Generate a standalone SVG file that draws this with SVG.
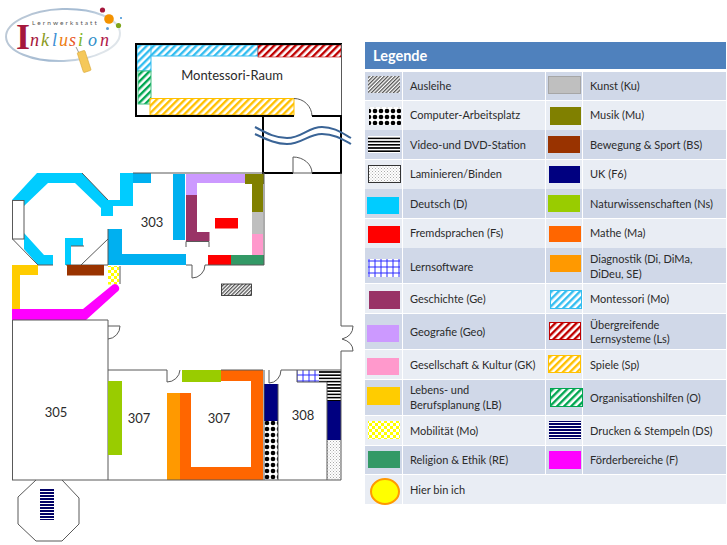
<svg xmlns="http://www.w3.org/2000/svg" width="727" height="545" viewBox="0 0 727 545">
<style>
text{font-family:"Lato","Liberation Sans",sans-serif;fill:#2b2b2b}
.l{font-size:11px}
.r{font-size:13px}
.d{fill:#d0d8e8}.e{fill:#e9edf4}
.w{fill:none;stroke:#595959;stroke-width:1}
.t{fill:none;stroke:#000;stroke-width:2}
.wave{fill:none;stroke:#3a6496;stroke-width:2}
</style>
<defs>
<pattern id="pAus" width="2.6" height="2.6" patternUnits="userSpaceOnUse" patternTransform="rotate(45)"><rect width="2.6" height="2.6" fill="#fff"/><rect width="1.3" height="2.6" fill="#555"/></pattern>
<pattern id="pCom" width="6" height="6" patternUnits="userSpaceOnUse"><rect width="6" height="6" fill="#fff"/><circle cx="3" cy="3" r="2.300" fill="#000"/></pattern>
<pattern id="pDvd" width="3" height="3.2" patternUnits="userSpaceOnUse"><rect width="3" height="3.2" fill="#fff"/><rect width="3" height="1.6" fill="#000"/></pattern>
<pattern id="pLam" width="3" height="3" patternUnits="userSpaceOnUse"><rect width="3" height="3" fill="#fff"/><rect width="1" height="1" fill="#aaa"/><rect x="1.5" y="1.5" width="1" height="1" fill="#bbb"/></pattern>
<pattern id="pSw" width="6" height="6" patternUnits="userSpaceOnUse"><rect width="6" height="6" fill="#fff"/><path d="M0 3H6M3 0V6" stroke="#2a2aff" stroke-width="1" fill="none"/></pattern>
<pattern id="pMo" width="5" height="5" patternUnits="userSpaceOnUse" patternTransform="rotate(45)"><rect width="5" height="5" fill="#fff"/><rect width="2.4" height="5" fill="#33bdf0"/></pattern>
<pattern id="pLs" width="5" height="5" patternUnits="userSpaceOnUse" patternTransform="rotate(45)"><rect width="5" height="5" fill="#fff"/><rect width="2.4" height="5" fill="#c00000"/></pattern>
<pattern id="pSp" width="5" height="5" patternUnits="userSpaceOnUse" patternTransform="rotate(45)"><rect width="5" height="5" fill="#fff"/><rect width="2.4" height="5" fill="#ffc000"/></pattern>
<pattern id="pO" width="5" height="5" patternUnits="userSpaceOnUse" patternTransform="rotate(45)"><rect width="5" height="5" fill="#fff"/><rect width="2.4" height="5" fill="#00a650"/></pattern>
<pattern id="pMob" width="6" height="6" patternUnits="userSpaceOnUse"><rect width="6" height="6" fill="#fff"/><rect width="3" height="3" fill="#ffff00"/><rect x="3" y="3" width="3" height="3" fill="#ffff00"/></pattern>
<pattern id="pDs" width="3" height="3" patternUnits="userSpaceOnUse"><rect width="3" height="3" fill="#fff"/><rect width="3" height="2" fill="#000066"/></pattern>
<linearGradient id="gE" x1="0" y1="0" x2="1" y2="0.3"><stop offset="0" stop-color="#c3cdd8"/><stop offset="0.6" stop-color="#a3bad2"/><stop offset="1" stop-color="#dfe5ea"/></linearGradient>
</defs>

<g id="logo">
<ellipse cx="63" cy="35" rx="57" ry="26" fill="#fff" stroke="url(#gE)" stroke-width="2" transform="rotate(-2 63 35)"/>
<text x="32" y="25" style="font-size:6.500px;letter-spacing:2.1px;fill:#555">Lernwerkstatt</text>
<text x="16" y="49" style="font-family:'Liberation Serif',serif;font-size:36px;font-weight:bold;fill:#a5173c">I</text>
<text y="46" style="font-family:'Liberation Serif',serif;font-style:italic;font-size:18px"><tspan x="30" style="fill:#a5173c">n</tspan><tspan x="41" style="fill:#8b9a1e">k</tspan><tspan x="52" style="fill:#3b8fd4">l</tspan><tspan x="59" style="fill:#ee7d11">u</tspan><tspan x="69" style="fill:#e8551e">s</tspan><tspan x="78" style="fill:#7fb51d">i</tspan><tspan x="88" style="fill:#2f8ec9">o</tspan><tspan x="100" style="fill:#b01a4a">n</tspan></text>
<circle cx="102.500" cy="10" r="2.600" fill="#a5173c"/><circle cx="109" cy="19" r="4.800" fill="#f39200"/><circle cx="121" cy="18" r="1" fill="#3b8fd4"/><circle cx="118.500" cy="25.500" r="2.600" fill="#7fa51d"/><circle cx="107.500" cy="28.500" r="1.500" fill="#5b9bd5"/>
<path d="M76 47 L79 53" stroke="#999" fill="none"/>
<rect x="80" y="51" width="8" height="21" rx="1" fill="#f5c85a" stroke="#d9a93a" stroke-width="0.6" transform="rotate(-18 84 61)"/>
</g>

<g id="montessori-raum">
<rect x="137" y="45" width="121" height="11" fill="url(#pMo)" stroke="#33bdf0"/>
<rect x="258" y="45" width="83" height="12" fill="url(#pLs)" stroke="#c00000" stroke-width="0.6"/>
<rect x="137" y="45" width="14" height="26" fill="url(#pMo)" stroke="#33bdf0"/>
<rect x="138" y="71" width="13" height="33" fill="url(#pO)" stroke="#3fbf7f"/>
<rect x="150" y="98.500" width="144" height="16.500" fill="url(#pSp)" stroke="#ffc000"/>
<path class="t" d="M294 116H136V44H342"/>
<path class="w" d="M341.500 44V116"/>
<path class="w" d="M294 98.500A18 18 0 0 1 312 116"/>
<text class="r" x="232" y="80" text-anchor="middle">Montessori-Raum</text>
</g>

<g id="flur">
<path class="t" d="M312 116H341V173H312M293 173H263V116H294"/>
<path class="w" d="M293 157V173H312M293 157A19 16 0 0 1 312 173"/>
<path class="wave" d="M255 127C268 134 276 138 287 138C302 138 308 127 322 127C334 127 342 133 351 138"/>
<path class="wave" d="M255 134C268 140 276 144 287 144C302 144 308 134 322 134C334 134 342 139 351 144"/>
</g>

<g id="raum-303">
<path fill="#00ccff" d="M12 200L37 173H82L108 200H120V173H133V206H113V216H101V208L75 183H48L24 206V200Z"/>
<path fill="#00b0f0" d="M133 173H151V183H133Z"/>
<path fill="#00ccff" d="M24 233L44 255H53V265H38L24 249Z"/>
<path fill="#00ccff" d="M65 238H83V246H71V265H65Z"/>
<path fill="#00b0f0" d="M108 229H122V254H186V265H108Z"/>
<rect x="173" y="174" width="12" height="66" fill="#00b0f0"/>
<rect x="186" y="174" width="59" height="9" fill="#cc99ff"/>
<rect x="186" y="174" width="11" height="21" fill="#cc99ff"/>
<path fill="#993366" d="M186 195H197V232H209.500V241H186Z"/>
<path fill="#808000" d="M245 174H264V184H263V212H252V184H245Z"/>
<rect x="252" y="212" width="11" height="22" fill="#bfbfbf"/>
<rect x="252" y="234" width="11" height="21" fill="#ff99cc"/>
<rect x="231" y="255" width="33" height="10" fill="#339966"/>
<rect x="208" y="255" width="23" height="10" fill="#ff0000"/>
<rect x="215" y="218" width="23" height="10.500" fill="#ff0000"/>
<rect x="12.500" y="200.500" width="11.500" height="38.500" fill="#fff" stroke="#595959"/>
<path class="w" d="M12.500 239L38 265H53M82 173L108 200M133 173H264V265H205M186 265H192V278A13 13 0 0 0 205 265M66 265H108V229M81 265L108 239M71 246H84M186 247V241.500H209V247"/>
<rect x="221.500" y="284" width="30" height="11.500" fill="url(#pAus)" stroke="#222" stroke-width="0.8"/>
<text class="r" x="152" y="227" text-anchor="middle">303</text>
</g>

<g id="westbereich">
<rect x="67" y="265" width="37" height="10.500" fill="#993300"/>
<rect x="108" y="266" width="11" height="18.500" fill="url(#pMob)"/>
<path class="w" d="M120 266V284"/>
<path fill="#ffcc00" d="M12 265H38V275H20V309H12Z"/>
<path fill="#ff00ff" d="M12 309H83L113 284.500Q117 283 119 287Q120 290 117 292L86 320H12Z"/>
</g>

<g id="raum-305">
<path class="w" d="M12.500 480V320H108V480M108 326H120A13 13 0 0 1 108 339"/>
<text class="r" x="56" y="417" text-anchor="middle">305</text>
<path class="w" d="M36 480L18 497V524L36 541H62L79 524V498L62 480"/>
<rect x="40" y="489" width="14" height="31" fill="url(#pDs)"/>
</g>

<g id="raum-307">
<rect x="108" y="381" width="14" height="74" fill="#99cc00"/>
<rect x="167" y="393" width="13" height="87" fill="#ff9900"/>
<path fill="#ff6600" d="M180 393H191V467H251V381H221V370H263V480H180Z"/>
<rect x="182" y="370" width="39" height="12" fill="#99cc00"/>
<path class="w" d="M108 370H167V382A13 13 0 0 0 180 370M221 370H263"/>
<text class="r" x="139" y="423" text-anchor="middle">307</text>
<text class="r" x="219" y="423" text-anchor="middle">307</text>
</g>

<g id="raum-308">
<rect x="264" y="384" width="14" height="37" fill="#000080"/>
<rect x="264" y="421" width="14" height="59" fill="url(#pCom)"/>
<rect x="297" y="370" width="22" height="12" fill="url(#pSw)"/>
<rect x="319" y="370" width="22" height="12" fill="url(#pDvd)"/>
<rect x="327" y="382" width="14" height="19" fill="url(#pDvd)"/>
<rect x="327" y="401" width="14" height="39" fill="#000080"/>
<rect x="327" y="440" width="14" height="40" fill="url(#pLam)"/>
<path class="w" d="M269 370V383A12 13 0 0 0 281 370H341M297 370V382H327V480M278 384V480M264 370V480M341 480H12"/>
<text class="r" x="303" y="420" text-anchor="middle">308</text>
</g>

<g id="aussenwand">
<path class="w" d="M341 173V326H353Q353 336 342 339Q353 342 353 351H341V480"/>
</g>

<g id="legende">
<rect x="365" y="42" width="361" height="27" fill="#4f81bd"/>
<text x="373" y="61" style="font-size:14.500px;font-weight:bold;fill:#fff">Legende</text>
<g id="zeilen">
<path class="d" d="M365 72h37v28h-37zM403 72h142v28H403zM546 72h36v28h-36zM583 72h143v28H583z"/>
<path class="e" d="M365 101h37v29h-37zM403 101h142v29H403zM546 101h36v29h-36zM583 101h143v29H583z"/>
<path class="d" d="M365 130h37v29h-37zM403 130h142v29H403zM546 130h36v29h-36zM583 130h143v29H583z"/>
<path class="e" d="M365 160h37v29h-37zM403 160h142v29H403zM546 160h36v29h-36zM583 160h143v29H583z"/>
<path class="d" d="M365 189h37v29h-37zM403 189h142v29H403zM546 189h36v29h-36zM583 189h143v29H583z"/>
<path class="e" d="M365 219h37v29h-37zM403 219h142v29H403zM546 219h36v29h-36zM583 219h143v29H583z"/>
<path class="d" d="M365 248h37v35h-37zM403 248h142v35H403zM546 248h36v35h-36zM583 248h143v35H583z"/>
<path class="e" d="M365 284h37v29h-37zM403 284h142v29H403zM546 284h36v29h-36zM583 284h143v29H583z"/>
<path class="d" d="M365 314h37v35h-37zM403 314h142v35H403zM546 314h36v35h-36zM583 314h143v35H583z"/>
<path class="e" d="M365 350h37v29h-37zM403 350h142v29H403zM546 350h36v29h-36zM583 350h143v29H583z"/>
<path class="d" d="M365 380h37v35h-37zM403 380h142v35H403zM546 380h36v35h-36zM583 380h143v35H583z"/>
<path class="e" d="M365 416h37v29h-37zM403 416h142v29H403zM546 416h36v29h-36zM583 416h143v29H583z"/>
<path class="d" d="M365 446h37v28h-37zM403 446h142v28H403zM546 446h36v28h-36zM583 446h143v28H583z"/>
<path class="e" d="M365 475h37v29h-37zM403 475h323v29H403z"/>
</g>
<g id="symbole">
<rect x="368" y="76" width="32" height="17" fill="url(#pAus)"/>
<rect x="369" y="107" width="32" height="18" fill="url(#pCom)"/>
<rect x="368" y="136" width="32" height="17" fill="url(#pDvd)"/>
<rect x="368.500" y="165.500" width="32" height="17" fill="url(#pLam)" stroke="#333"/>
<rect x="367" y="197" width="32" height="17" fill="#00ccff"/>
<rect x="368" y="226" width="32" height="17" fill="#ff0000"/>
<rect x="368" y="259" width="32" height="18" fill="url(#pSw)"/>
<rect x="369" y="291" width="31" height="18" fill="#993366"/>
<rect x="367" y="325" width="32" height="17" fill="#cc99ff"/>
<rect x="367" y="358" width="32" height="17" fill="#ff99cc"/>
<rect x="367" y="387" width="33" height="18" fill="#ffcc00"/>
<rect x="368" y="421" width="32" height="18" fill="url(#pMob)"/>
<rect x="368" y="451" width="32" height="17" fill="#339966"/>
<ellipse cx="385" cy="491.500" rx="14" ry="12.500" fill="#ffff00" stroke="#ff9900" stroke-width="2"/>
<rect x="548.500" y="76.500" width="32" height="17" fill="#bfbfbf" stroke="#a6a6a6"/>
<rect x="550" y="107" width="31" height="18" fill="#808000"/>
<rect x="548" y="136" width="32" height="17" fill="#993300"/>
<rect x="549" y="166" width="31" height="17" fill="#000080"/>
<rect x="548" y="195" width="32" height="17" fill="#99cc00"/>
<rect x="549" y="226" width="32" height="16" fill="#ff6600"/>
<rect x="550" y="255" width="31" height="17" fill="#ff9900"/>
<rect x="550.500" y="290.500" width="31" height="18" fill="url(#pMo)" stroke="#33bdf0"/>
<rect x="549.500" y="322.500" width="31" height="17" fill="url(#pLs)" stroke="#c00000"/>
<rect x="548.500" y="355.500" width="32" height="17" fill="url(#pSp)" stroke="#ffc000"/>
<rect x="550.500" y="388.500" width="32" height="18" fill="url(#pO)" stroke="#00a650"/>
<rect x="549" y="421" width="32" height="18" fill="url(#pDs)"/>
<rect x="549" y="451" width="32" height="18" fill="#ff00ff"/>
</g>
<g id="beschriftung">
<text class="l" x="410" y="90">Ausleihe</text>
<text class="l" x="410" y="119">Computer-Arbeitsplatz</text>
<text class="l" x="410" y="149">Video-und DVD-Station</text>
<text class="l" x="410" y="178">Laminieren/Binden</text>
<text class="l" x="410" y="208">Deutsch (D)</text>
<text class="l" x="410" y="237">Fremdsprachen (Fs)</text>
<text class="l" x="410" y="271">Lernsoftware</text>
<text class="l" x="410" y="303">Geschichte (Ge)</text>
<text class="l" x="410" y="336">Geografie (Geo)</text>
<text class="l" x="410" y="369">Gesellschaft &amp; Kultur (GK)</text>
<text class="l" x="410" y="394">Lebens- und</text>
<text class="l" x="410" y="409">Berufsplanung (LB)</text>
<text class="l" x="410" y="435">Mobilität (Mo)</text>
<text class="l" x="410" y="464">Religion &amp; Ethik (RE)</text>
<text class="l" x="410" y="494">Hier bin ich</text>
<text class="l" x="590" y="90">Kunst (Ku)</text>
<text class="l" x="590" y="119">Musik (Mu)</text>
<text class="l" x="590" y="149">Bewegung &amp; Sport (BS)</text>
<text class="l" x="590" y="178">UK (F6)</text>
<text class="l" x="590" y="208">Naturwissenschaften (Ns)</text>
<text class="l" x="590" y="237">Mathe (Ma)</text>
<text class="l" x="590" y="263">Diagnostik (Di, DiMa,</text>
<text class="l" x="590" y="278">DiDeu, SE)</text>
<text class="l" x="590" y="303">Montessori (Mo)</text>
<text class="l" x="590" y="329">Übergreifende</text>
<text class="l" x="590" y="343">Lernsysteme (Ls)</text>
<text class="l" x="590" y="369">Spiele (Sp)</text>
<text class="l" x="590" y="402">Organisationshilfen (O)</text>
<text class="l" x="590" y="435">Drucken &amp; Stempeln (DS)</text>
<text class="l" x="590" y="464">Förderbereiche (F)</text>
</g>
</g>
</svg>
